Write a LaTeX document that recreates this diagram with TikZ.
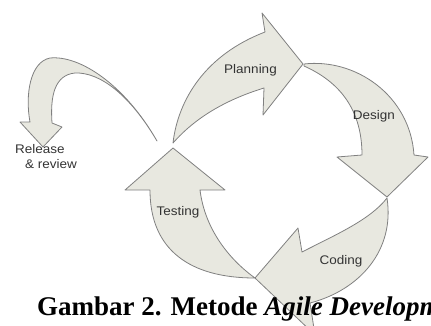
\documentclass[tikz,border=0pt]{standalone}
\usepackage{fontspec}
\setmainfont{Liberation Serif}
\newfontfamily\lblfont{Liberation Sans}[FakeStretch=1.08]
\usepackage{tikz}

\definecolor{phasefill}{RGB}{232,232,224}
\definecolor{phaseline}{RGB}{128,128,128}

\begin{document}
\begin{tikzpicture}[x=1pt,y=-1pt,
    phase/.style={fill=phasefill,draw=phaseline,line width=0.8pt,line join=round},
    lbl/.style={font=\lblfont\fontsize{12.5}{15}\selectfont,text=black!80,inner sep=0pt,anchor=base}]
  \useasboundingbox (0,0) rectangle (431,325);
  \clip (0,0) rectangle (431,325);

  % planning
  \path[phase] (173,143) .. controls (178,100) and (205,55) .. (265,32)
     -- (262,13) -- (303,64) -- (263,115) -- (264,88)
     .. controls (225,100) and (195,118) .. cycle;
  % design
  \path[phase] (304,64) .. controls (355,58) and (410,95) .. (414,155)
     -- (428,157) -- (387,197) -- (337,157) -- (362,155)
     .. controls (362,110) and (340,82) .. (304,66) -- cycle;
  % coding
  \path[phase] (387,198) .. controls (395,250) and (360,290) .. (310,303)
     -- (315,335) -- (255,278) -- (298,228) -- (302,252)
     .. controls (335,235) and (370,220) .. cycle;
  % testing
  \path[phase] (255,278) .. controls (190,278) and (150,250) .. (150,190)
     -- (125,190) -- (173,148) -- (225,190) -- (200,190)
     .. controls (205,230) and (230,260) .. cycle;
  % release
  \path[phase] (157,141) .. controls (125,85) and (80,55) .. (50,58)
     .. controls (30,62) and (25,95) .. (30,122)
     -- (20,122) -- (43,147) -- (62,127) -- (52,123)
     .. controls (50,95) and (55,75) .. (75,73)
     .. controls (100,72) and (130,95) .. cycle;

  \node[lbl] (plan) at (250.5,73) {Planning};
  \node[lbl] (design) at (374,119) {Design};
  \node[lbl] (code) at (341,264) {Coding};
  \node[lbl] (test) at (178,215) {Testing};
  \node[lbl,anchor=base west,align=left] (release) at (15,168)
    {Release\\[0pt]\hspace{10pt}\& review};

  \node[anchor=base west,inner sep=0pt,font=\bfseries\fontsize{27}{30}\selectfont]
    (caption) at (37,315) {Gambar 2. Metode \textit{Agile Developm}};
\end{tikzpicture}
\end{document}
